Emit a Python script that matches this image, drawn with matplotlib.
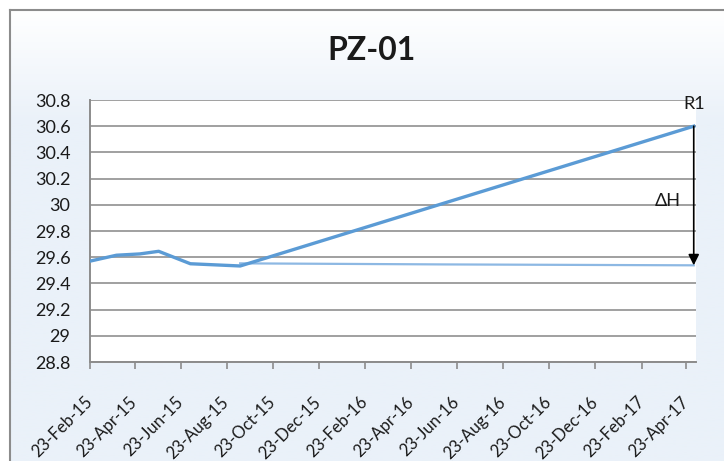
import numpy as np
import pandas as pd
import matplotlib
matplotlib.use("Agg")
import matplotlib.pyplot as plt

r1_dates = ["2015-02-23", "2015-03-30", "2015-04-30", "2015-05-25",
            "2015-07-06", "2015-09-10", "2017-05-03"]
r1_values = [29.57, 29.615, 29.625, 29.645, 29.55, 29.533, 30.6]

base_dates = ["2015-09-10", "2016-06-01", "2017-05-03"]
base_values = [29.553, 29.545, 29.538]

tick_dates = pd.date_range("2015-02-01", "2017-04-01", freq="2MS") + pd.Timedelta(days=22)
y_ticks = np.round(np.arange(28.8, 30.81, 0.2), 1)

r1_dates = pd.to_datetime(r1_dates)
base_dates = pd.to_datetime(base_dates)

plt.rcParams['font.family'] = ['Lato', 'DejaVu Sans']

fig = plt.figure(figsize=(7.24, 4.61), dpi=100)
fig.patch.set_facecolor("white")

# chart area background: white fading into light blue, with a frame line
bg = fig.add_axes([10 / 724, 0, 714 / 724, 1 - 10 / 461])
grad = np.linspace(0, 1, 200).reshape(-1, 1)
grad = np.clip(grad * 4, 0, 1)
top = np.array([1.0, 1.0, 1.0])
bot = np.array([0xEA, 0xF1, 0xF9]) / 255
img = top + (bot - top) * grad[:, :, None]
bg.imshow(img, aspect="auto", extent=[0, 1, 0, 1], origin="upper")
bg.set_xlim(0, 1)
bg.set_ylim(0, 1)
bg.set_xticks([])
bg.set_yticks([])
for side in ["right", "bottom"]:
    bg.spines[side].set_visible(False)
for side in ["left", "top"]:
    bg.spines[side].set_color("#8C8C8C")
    bg.spines[side].set_linewidth(1.5)

ax = fig.add_axes([90 / 724, 1 - 362 / 461, 606 / 724, 262 / 461])
ax.set_facecolor("white")

ax.plot(r1_dates, r1_values, color="#5B9BD5", lw=2.4, zorder=3)
ax.plot(base_dates, base_values, color="#8DB8E3", lw=1.6, zorder=2)

ax.set_ylim(28.8, 30.8)
ax.set_yticks(y_ticks)
ax.set_yticklabels([f"{v:g}" for v in y_ticks], fontsize=13, color="#1A1A1A")
ax.tick_params(axis="y", length=0, pad=14)

start = pd.Timestamp("2015-02-23")
ax.set_xlim(start, start + pd.Timedelta(days=803))
ax.set_xticks(tick_dates)
ax.set_xticklabels([d.strftime("%d-%b-%y") for d in tick_dates],
                   rotation=45, ha="right", va="center", rotation_mode="anchor",
                   fontsize=12, color="#1A1A1A")
ax.tick_params(axis="x", length=5, width=1.2, color="#8C8C8C", pad=22)

ax.grid(axis="y", color="#A0A0A0", lw=1.4)
ax.set_axisbelow(True)
for side in ["top", "right"]:
    ax.spines[side].set_visible(False)
for side in ["left", "bottom"]:
    ax.spines[side].set_color("#8C8C8C")
    ax.spines[side].set_linewidth(1.4)

# drop arrow from R1 down to the baseline
ax.annotate("", xy=(base_dates[-1], base_values[-1]),
            xytext=(r1_dates[-1], r1_values[-1]),
            arrowprops=dict(arrowstyle="-|>", color="black", lw=1.2,
                            mutation_scale=16, shrinkA=0, shrinkB=0),
            zorder=4)
ax.text(r1_dates[-1], 30.77, "R1", ha="center", va="center",
        fontsize=13, color="#1A1A1A", clip_on=False)
ax.text(r1_dates[-1] - pd.Timedelta(days=34), 30.03, "ΔH", ha="center",
        va="center", fontsize=13, color="#1A1A1A")

fig.text(372 / 724, 1 - 50 / 461, "PZ-01", ha="center", va="center",
         fontsize=23, fontweight="bold", color="#1A1A1A")

fig.savefig("out.png", dpi=100)
